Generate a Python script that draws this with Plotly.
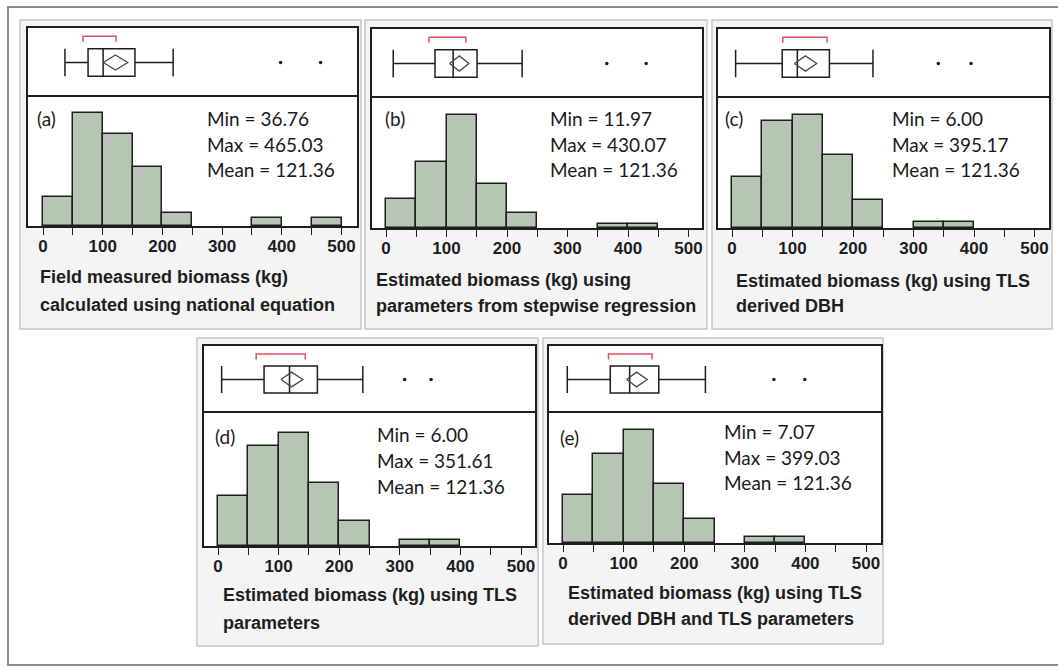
import plotly.graph_objects as go

# ---------------------------------------------------------------- data
panel_tags = ["(a)", "(b)", "(c)", "(d)", "(e)"]

bin_edges = [0, 50, 100, 150, 200, 250, 300, 350, 400, 450, 500]

counts_a = [7, 27, 22, 14, 3, 0, 0, 2, 0, 2]
counts_b = [8, 18, 31, 12, 4, 0, 0, 1, 1, 0]
counts_c = [9, 19, 20, 13, 5, 0, 1, 1, 0, 0]
counts_d = [8, 16, 18, 10, 4, 0, 1, 1, 0, 0]
counts_e = [8, 15, 19, 10, 4, 0, 1, 1, 0, 0]
hist_counts = [counts_a, counts_b, counts_c, counts_d, counts_e]

stat_min = [36.76, 11.97, 6.00, 6.00, 7.07]
stat_max = [465.03, 430.07, 395.17, 351.61, 399.03]
stat_mean = [121.36, 121.36, 121.36, 121.36, 121.36]

# box plot summaries (kg)
q1 = [75.5, 81, 83, 76, 78]
median = [100.7, 111, 108, 118, 110]
q3 = [154, 150.5, 161, 164, 158]
whisker_hi = [218, 225, 233, 239, 235]
outliers = [[398, 465.03], [365, 430.07], [341, 395.17], [308, 351.61], [348, 399.03]]
mean_ci_lo = [101, 105, 103, 104, 105]
mean_ci_hi = [142, 137, 140, 140, 139]
shortest_half_lo = [67, 71, 84, 63, 75]
shortest_half_hi = [122.5, 132, 157, 144, 147]

titles = [
    ["Field measured biomass (kg)", "calculated using national equation"],
    ["Estimated biomass (kg) using", "parameters from stepwise regression"],
    ["Estimated biomass (kg) using TLS", "derived DBH"],
    ["Estimated biomass (kg) using TLS", "parameters"],
    ["Estimated biomass (kg) using TLS", "derived DBH and TLS parameters"],
]

tick_vals = [0, 100, 200, 300, 400, 500]

# ---------------------------------------------------------------- layout geometry (pixels)
W, H = 1058, 668

# panel card: left, top, right, bottom
cards = [(20, 20, 361, 329), (365, 20, 707, 329), (712, 20, 1052, 329),
         (197, 338, 538, 646), (543, 338, 883, 644)]
# plot frame: left, right, top, separator, baseline
frames = [(28, 357, 28, 97, 226), (372, 702, 29, 98, 228), (718, 1049, 29, 98, 228),
          (204, 535, 346, 413, 546), (549, 881, 346, 413, 543)]
# pixel x of axis value 0 and 500
axis_px = [(43, 341.5), (386, 688.5), (732, 1034.5), (218, 521), (563, 866)]
tag_pos = [(35, 118), (383, 118), (723, 118), (213, 436), (558, 437)]
stats_pos = [(205, 118), (548, 118), (890, 118), (375, 434), (722, 431)]
title_pos = [(38, 277, 305), (374, 280, 306), (734, 281, 306), (221, 595, 623), (566, 593, 619)]
STATS_GAP = 26
PEAK_PX = 113

BAR_FILL = "#b5c7b2"
INK = "#1e1e1e"


def px(x):
    return x / W


def py(y):
    return 1 - y / H


def axis_id(n):
    return ("x", "y") if n == 1 else (f"x{n}", f"y{n}")


def axis_key(n):
    return ("xaxis", "yaxis") if n == 1 else (f"xaxis{n}", f"yaxis{n}")


fig = go.Figure()
shapes = []
annotations = []
layout_axes = {}

# outer frame
shapes.append(dict(type="rect", xref="paper", yref="paper", x0=px(8), x1=px(1075),
                   y0=py(665), y1=py(7), line=dict(color="#8c8c8c", width=2),
                   fillcolor="rgba(0,0,0,0)", layer="below"))

for i in range(5):
    n_box = 2 * i + 1
    n_hist = 2 * i + 2
    xb, yb = axis_id(n_box)
    xh, yh = axis_id(n_hist)
    kxb, kyb = axis_key(n_box)
    kxh, kyh = axis_key(n_hist)

    fl, fr, ft, fs, fb = frames[i]
    p0, p500 = axis_px[i]
    scale = (p500 - p0) / 500.0
    xrange = [(fl - p0) / scale, (fr - p0) / scale]

    # panel card
    cl, ct, cr, cb = cards[i]
    shapes.append(dict(type="rect", xref="paper", yref="paper",
                       x0=px(cl), x1=px(cr), y0=py(cb), y1=py(ct),
                       line=dict(color="#c6c6c6", width=1.5), fillcolor="#f4f4f4",
                       layer="below"))
    # white plotting areas
    for xa, ya in ((xb, yb), (xh, yh)):
        shapes.append(dict(type="rect", xref=f"{xa} domain", yref=f"{ya} domain",
                           x0=0, x1=1, y0=0, y1=1, line=dict(width=0),
                           fillcolor="white", layer="below"))

    # ---- histogram (empty bins get no outline)
    counts = hist_counts[i]
    centers = [(bin_edges[k] + bin_edges[k + 1]) / 2 for k in range(len(counts))]
    widths = [bin_edges[k + 1] - bin_edges[k] for k in range(len(counts))]
    outline = [1.5 if c > 0 else 0 for c in counts]
    fig.add_trace(go.Bar(x=centers, y=counts, width=widths, xaxis=xh, yaxis=yh,
                         marker=dict(color=BAR_FILL, line=dict(color=INK, width=outline)),
                         showlegend=False, hoverinfo="x+y"))
    ymax = max(counts) * (fb - fs) / PEAK_PX

    # ---- box plot
    fig.add_trace(go.Box(y=[0], q1=[q1[i]], median=[median[i]], q3=[q3[i]],
                         lowerfence=[stat_min[i]], upperfence=[whisker_hi[i]],
                         orientation="h", width=0.8, whiskerwidth=1,
                         fillcolor="rgba(255,255,255,0)", line=dict(color=INK, width=1.5),
                         boxpoints=False, xaxis=xb, yaxis=yb, showlegend=False))
    # mean diamond (confidence interval of the mean)
    m = stat_mean[i]
    fig.add_trace(go.Scatter(x=[mean_ci_lo[i], m, mean_ci_hi[i], m, mean_ci_lo[i]],
                             y=[0, 0.22, 0, -0.22, 0], mode="lines",
                             line=dict(color="#4a4a4a", width=1.3),
                             xaxis=xb, yaxis=yb, showlegend=False, hoverinfo="skip"))
    # shortest half bracket
    a, b = shortest_half_lo[i], shortest_half_hi[i]
    fig.add_trace(go.Scatter(x=[a, a, b, b], y=[0.6, 0.76, 0.76, 0.6], mode="lines",
                             line=dict(color="#e0505c", width=1.5),
                             xaxis=xb, yaxis=yb, showlegend=False, hoverinfo="skip"))
    # outliers
    fig.add_trace(go.Scatter(x=outliers[i], y=[0] * len(outliers[i]), mode="markers",
                             marker=dict(color=INK, size=3.5),
                             xaxis=xb, yaxis=yb, showlegend=False))

    frame_line = dict(showline=True, linecolor=INK, linewidth=1.5)
    # box strip: top edge only (the histogram axis supplies the separator)
    layout_axes[kxb] = dict(domain=[px(fl), px(fr)], range=xrange, side="top",
                            anchor=yb, showgrid=False, zeroline=False,
                            showticklabels=False, ticks="", mirror=False, **frame_line)
    layout_axes[kyb] = dict(domain=[py(fs), py(ft)], range=[-1, 1],
                            anchor=xb, showgrid=False, zeroline=False,
                            showticklabels=False, ticks="", type="linear",
                            mirror=True, **frame_line)
    layout_axes[kxh] = dict(domain=[px(fl), px(fr)], range=xrange,
                            anchor=yh, showgrid=False, zeroline=False,
                            tickmode="array", tickvals=tick_vals,
                            ticks="outside", ticklen=7, tickwidth=1.3,
                            tickcolor=INK, ticklabelstandoff=-3,
                            minor=dict(dtick=50, tick0=0, ticks="outside",
                                       ticklen=7, tickwidth=1.3,
                                       tickcolor=INK, showgrid=False),
                            tickfont=dict(family="Liberation Sans", size=17,
                                          color=INK, weight="bold"),
                            mirror=True, **frame_line)
    layout_axes[kyh] = dict(domain=[py(fb), py(fs)], range=[0, ymax],
                            anchor=xh, showgrid=False, zeroline=False,
                            showticklabels=False, ticks="", mirror=True, **frame_line)

    # ---- texts
    txt_font = dict(family="Lato", size=19, color="#1a1a1a")
    tx, ty = tag_pos[i]
    annotations.append(dict(text=panel_tags[i], x=px(tx), y=py(ty), xref="paper",
                            yref="paper", xanchor="left", yanchor="middle",
                            showarrow=False, font=txt_font))
    sx, sy = stats_pos[i]
    stat_lines = [f"Min = {stat_min[i]:.2f}", f"Max = {stat_max[i]:.2f}",
                  f"Mean = {stat_mean[i]:.2f}"]
    for k, line in enumerate(stat_lines):
        annotations.append(dict(text=line, x=px(sx), y=py(sy + k * STATS_GAP),
                                xref="paper", yref="paper", xanchor="left",
                                yanchor="middle", showarrow=False, font=txt_font))
    lx, ly1, ly2 = title_pos[i]
    for line, ly in zip(titles[i], (ly1, ly2)):
        annotations.append(dict(text=line, x=px(lx), y=py(ly), xref="paper",
                                yref="paper", xanchor="left", yanchor="middle",
                                showarrow=False,
                                font=dict(family="Liberation Sans", size=18,
                                          color=INK, weight="bold")))

fig.update_layout(width=W, height=H, margin=dict(l=0, r=0, t=0, b=0),
                  paper_bgcolor="white", plot_bgcolor="white",
                  shapes=shapes, annotations=annotations, bargap=0,
                  showlegend=False, **layout_axes)

fig.write_html("out.html")
